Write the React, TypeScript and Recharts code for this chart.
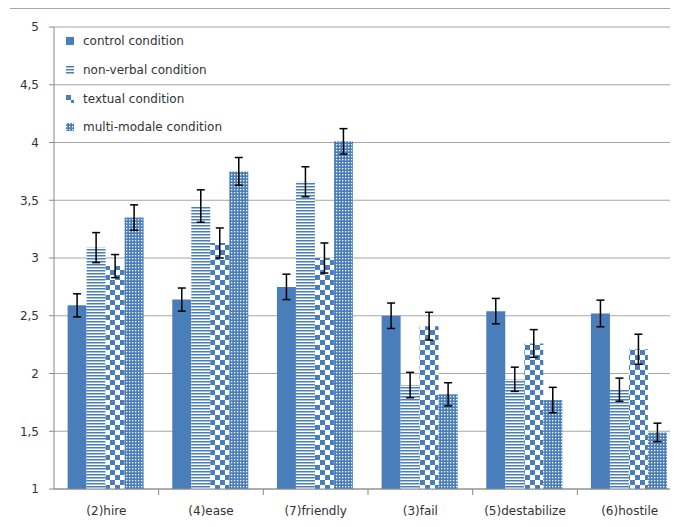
import { BarChart, Bar, XAxis, YAxis, CartesianGrid, ErrorBar, Legend } from "recharts";

const categories = ["(2)hire", "(4)ease", "(7)friendly", "(3)fail", "(5)destabilize", "(6)hostile"];
const control = [2.59, 2.64, 2.75, 2.5, 2.54, 2.52];
const controlErr = [0.1, 0.1, 0.11, 0.11, 0.11, 0.115];
const nonVerbal = [3.09, 3.45, 3.66, 1.9, 1.95, 1.86];
const nonVerbalErr = [0.13, 0.14, 0.13, 0.11, 0.105, 0.1];
const textual = [2.93, 3.13, 3.0, 2.41, 2.26, 2.21];
const textualErr = [0.1, 0.13, 0.13, 0.12, 0.12, 0.13];
const multi = [3.35, 3.75, 4.01, 1.82, 1.77, 1.49];
const multiErr = [0.11, 0.12, 0.11, 0.1, 0.11, 0.08];
const yTicks = [1, 1.5, 2, 2.5, 3, 3.5, 4, 4.5, 5];

const BLUE = "#4a7ebb";
const FONT = "'DejaVu Sans', sans-serif";

const data = categories.map((name, i) => ({
  name,
  control: control[i],
  controlErr: controlErr[i],
  nonVerbal: nonVerbal[i],
  nonVerbalErr: nonVerbalErr[i],
  textual: textual[i],
  textualErr: textualErr[i],
  multi: multi[i],
  multiErr: multiErr[i],
}));

const series = [
  { key: "control", label: "control condition", fill: BLUE },
  { key: "nonVerbal", label: "non-verbal condition", fill: "url(#stripes)" },
  { key: "textual", label: "textual condition", fill: "url(#checker)" },
  { key: "multi", label: "multi-modale condition", fill: "url(#dots)" },
];

function Patterns() {
  return (
    <svg width={0} height={0} style={{ position: "absolute" }}>
      <defs>
        <pattern id="stripes" width={4} height={3} patternUnits="userSpaceOnUse">
          <rect width={4} height={3} fill="#fff" />
          <rect width={4} height={1.5} fill={BLUE} />
        </pattern>
        <pattern id="checker" width={10} height={10} patternUnits="userSpaceOnUse">
          <rect width={10} height={10} fill="#fff" />
          <rect width={5} height={5} fill={BLUE} />
          <rect x={5} y={5} width={5} height={5} fill={BLUE} />
        </pattern>
        <pattern id="dots" width={3} height={3} patternUnits="userSpaceOnUse">
          <rect width={3} height={3} fill={BLUE} />
          <rect width={1.3} height={1.3} fill="#fff" />
        </pattern>
      </defs>
    </svg>
  );
}

function CategoryTick(props: any) {
  const { x, y, payload, index } = props;
  const band = Number(props.width) / Number(props.visibleTicksCount || categories.length);
  const left = x - band / 2;
  return (
    <g>
      {index > 0 && <line x1={left} x2={left} y1={y} y2={y + 6} stroke="#888" />}
      <text x={x} y={y + 22} textAnchor="middle" dominantBaseline="middle" fontSize={12} fill="#333" fontFamily={FONT}>
        {payload.value}
      </text>
    </g>
  );
}

function LegendBox() {
  return (
    <div style={{ fontFamily: FONT, fontSize: 12, color: "#333" }}>
      {series.map((s) => (
        <div key={s.key} style={{ display: "flex", alignItems: "center", height: 28.7 }}>
          <svg width={8} height={8} style={{ marginRight: 9 }}>
            <rect width={8} height={8} fill={s.fill} />
          </svg>
          <span>{s.label}</span>
        </div>
      ))}
    </div>
  );
}

export default function App() {
  return (
    <div style={{ margin: -8, width: 678, height: 527, overflow: "hidden", position: "relative", background: "#fff" }}>
      <Patterns />
      <div style={{ position: "absolute", left: 10, right: 0, top: 8, height: 1, background: "#aaa" }} />
      <BarChart
        width={682}
        height={527}
        data={data}
        margin={{ top: 27, right: 0, bottom: 0, left: 0 }}
        barCategoryGap="13%"
        barGap={0}
      >
        <CartesianGrid vertical={false} stroke="#a6a6a6" />
        <XAxis
          dataKey="name"
          height={38}
          axisLine={{ stroke: "#888" }}
          tickLine={false}
          tickSize={0}
          tickMargin={0}
          interval={0}
          tick={<CategoryTick />}
        />
        <YAxis
          width={54}
          domain={[1, 5]}
          ticks={yTicks}
          allowDataOverflow
          axisLine={{ stroke: "#888" }}
          tickLine={{ stroke: "#888" }}
          tickSize={5}
          tickMargin={10}
          tickFormatter={(v: number) => String(v).replace(".", ",")}
          tick={{ fontSize: 12, fill: "#333", fontFamily: FONT }}
        />
        <Legend
          layout="vertical"
          align="center"
          verticalAlign="middle"
          wrapperStyle={{ top: 27, left: 66, width: 220 }}
          content={<LegendBox />}
        />
        {series.map((s) => (
          <Bar key={s.key} dataKey={s.key} name={s.label} fill={s.fill} isAnimationActive={false}>
            <ErrorBar dataKey={`${s.key}Err`} width={4} stroke="#000" strokeWidth={1.5} direction="y" />
          </Bar>
        ))}
      </BarChart>
    </div>
  );
}
